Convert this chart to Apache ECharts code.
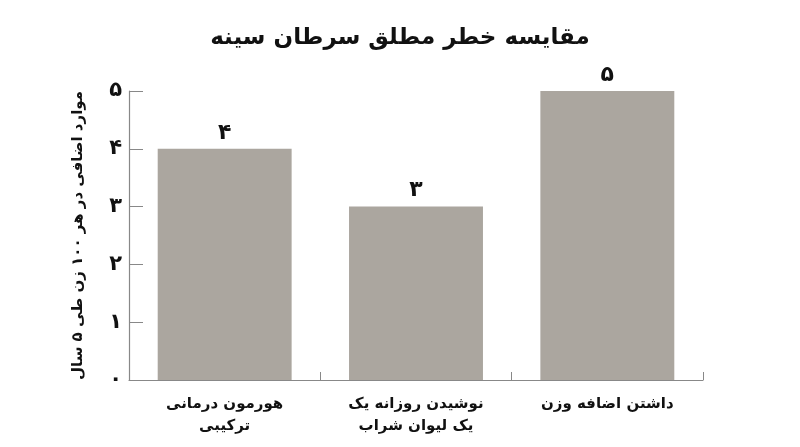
<!DOCTYPE html>
<html><head><meta charset="utf-8">
<script src="https://cdn.jsdelivr.net/npm/echarts@6/dist/echarts.min.js"></script>
<style>html,body{margin:0;padding:0;background:#fff}#c{width:800px;height:447px}</style>
</head><body><div id="c"></div>
<script>
const title = 'مقایسه خطر مطلق سرطان سینه';
const yAxisName = 'موارد اضافی در هر ۱۰۰ زن طی ۵ سال';
const categories = ['هورمون درمانی\nترکیبی', 'نوشیدن روزانه یک\nیک لیوان شراب', 'داشتن اضافه وزن'];
const values = [4, 3, 5];
const valueLabels = ['۴', '۳', '۵'];
const yTickLabels = ['۰', '۱', '۲', '۳', '۴', '۵'];

const font = 'DejaVu Sans';
const chart = echarts.init(document.getElementById('c'));
chart.setOption({
  animation: false,
  backgroundColor: '#ffffff',
  title: {
    text: title, left: 'center', top: 22,
    textStyle: { fontFamily: font, fontWeight: 'bold', fontSize: 23, color: '#111' }
  },
  grid: { left: 129, right: 97, top: 91, bottom: 67, containLabel: false },
  xAxis: {
    type: 'category', data: categories,
    axisLine: { lineStyle: { color: '#888', width: 1.2 } },
    axisTick: { show: true, inside: true, length: 8, alignWithLabel: false, lineStyle: { color: '#888' } },
    axisLabel: { fontFamily: font, fontWeight: 'bold', fontSize: 15, color: '#111', margin: 13, lineHeight: 22 }
  },
  yAxis: {
    type: 'value', min: 0, max: 5, interval: 1,
    name: yAxisName, nameLocation: 'middle', nameRotate: 90, nameGap: 43,
    nameMoveOverlap: false,
    nameTextStyle: { fontFamily: font, fontWeight: 'bold', fontSize: 15, color: '#111' },
    axisLine: { show: true, lineStyle: { color: '#888', width: 1.2 } },
    axisTick: { show: true, inside: true, length: 14, lineStyle: { color: '#888' } },
    splitLine: { show: false },
    axisLabel: {
      fontFamily: font, fontWeight: 'bold', fontSize: 21, color: '#111', margin: 7,
      formatter: v => yTickLabels[Math.round(v)]
    }
  },
  series: [{
    type: 'bar', data: values, barWidth: '70%',
    itemStyle: { color: '#aba69f' },
    label: {
      show: true, position: 'top', distance: 5,
      fontFamily: font, fontWeight: 'bold', fontSize: 22, color: '#111',
      formatter: p => valueLabels[p.dataIndex]
    }
  }]
});
</script></body></html>
